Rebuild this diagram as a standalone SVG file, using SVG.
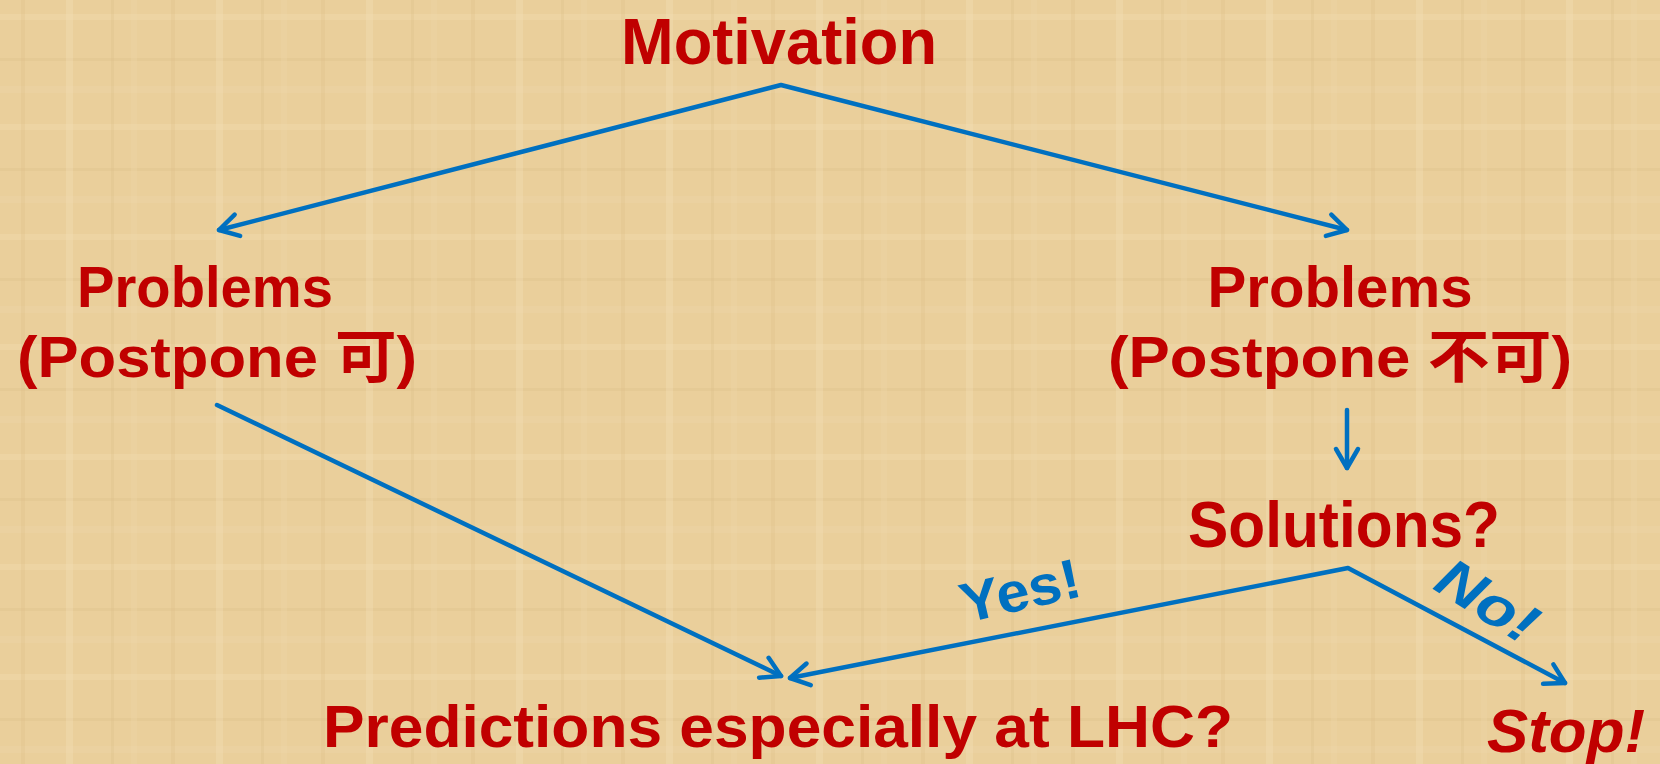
<svg xmlns="http://www.w3.org/2000/svg" width="1660" height="764" viewBox="0 0 1660 764">
<style>
.t{font-family:"Liberation Sans","Noto Sans CJK JP",sans-serif;font-weight:bold;fill:#C00000;text-anchor:middle}
.b{font-family:"Liberation Sans","Noto Sans CJK JP",sans-serif;font-weight:bold;fill:#0070C0;text-anchor:middle}
.c{stroke:#0070C0;stroke-width:4.5;fill:none;stroke-linecap:round;stroke-linejoin:round}
</style>
<defs>
<marker id="ah" viewBox="-2 -2 28 28" refX="22" refY="12" markerWidth="28" markerHeight="28" markerUnits="userSpaceOnUse" orient="auto-start-reverse" overflow="visible">
<path d="M3,1 L22,12 L3,23" fill="none" stroke="#0070C0" stroke-width="4.5" stroke-linecap="round" stroke-linejoin="round"/>
</marker>
<pattern id="tex" width="150" height="110" patternUnits="userSpaceOnUse">
<rect width="150" height="110" fill="#EACF9B"/>
<rect x="0" y="14" width="150" height="6" fill="#F2DDB0" opacity="0.35"/>
<rect x="0" y="58" width="150" height="3" fill="#DCC08A" opacity="0.3"/>
<rect x="0" y="86" width="150" height="7" fill="#F0DAAC" opacity="0.3"/>
<rect x="21" y="0" width="4" height="110" fill="#DABC85" opacity="0.25"/>
<rect x="66" y="0" width="7" height="110" fill="#F3E0B6" opacity="0.35"/>
<rect x="111" y="0" width="3" height="110" fill="#D8BA82" opacity="0.25"/>
<rect x="131" y="0" width="6" height="110" fill="#EFD9AA" opacity="0.3"/>
</pattern>
</defs>
<rect width="1660" height="764" fill="url(#tex)"/>
<g id="connectors">
<polyline class="c" points="219,230 781,85 1347,230" marker-start="url(#ah)" marker-end="url(#ah)"/>
<line class="c" x1="217" y1="405" x2="781" y2="676" marker-end="url(#ah)"/>
<line class="c" x1="1347" y1="410" x2="1347" y2="468" marker-end="url(#ah)"/>
<polyline class="c" points="790,678 1348,568 1565,683" marker-start="url(#ah)" marker-end="url(#ah)"/>
</g>
<g id="motivation"><text class="t" x="779" y="64" font-size="64" textLength="316" lengthAdjust="spacingAndGlyphs">Motivation</text></g>
<g id="problems-left">
<text class="t" x="205" y="307" font-size="57" textLength="256" lengthAdjust="spacingAndGlyphs">Problems</text>
<text class="t" x="217" y="377" font-size="57" textLength="400" lengthAdjust="spacingAndGlyphs">(Postpone 可)</text>
</g>
<g id="problems-right">
<text class="t" x="1340" y="307" font-size="57" textLength="265" lengthAdjust="spacingAndGlyphs">Problems</text>
<text class="t" x="1340" y="377" font-size="57" textLength="464" lengthAdjust="spacingAndGlyphs">(Postpone 不可)</text>
</g>
<g id="solutions"><text class="t" x="1344" y="547" font-size="64" textLength="312" lengthAdjust="spacingAndGlyphs">Solutions?</text></g>
<g id="yes"><text class="b" transform="translate(1020,590) rotate(-13)" x="0" y="20" font-size="56" textLength="122" lengthAdjust="spacingAndGlyphs">Yes!</text></g>
<g id="no"><text class="b" transform="translate(1488,600) rotate(32)" x="0" y="20" font-size="56" font-style="italic" textLength="108" lengthAdjust="spacingAndGlyphs">No!</text></g>
<g id="predictions"><text class="t" x="778" y="747" font-size="60" textLength="910" lengthAdjust="spacingAndGlyphs">Predictions especially at LHC?</text></g>
<g id="stop"><text class="t" x="1566" y="752" font-size="62" font-style="italic" textLength="158" lengthAdjust="spacingAndGlyphs">Stop!</text></g>
</svg>
